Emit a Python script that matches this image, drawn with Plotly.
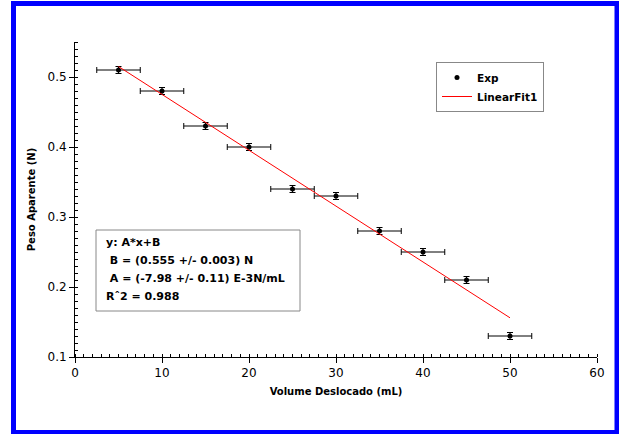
import plotly.graph_objects as go

# Data
vol = [5, 10, 15, 20, 25, 30, 35, 40, 45, 50]
peso = [0.51, 0.48, 0.43, 0.40, 0.34, 0.33, 0.28, 0.25, 0.21, 0.13]
vol_err = [2.5] * 10
peso_err = [0.005] * 10

fit_x = [5, 50]
fit_y = [0.515, 0.156]

fit_lines = ["y: A*x+B",
             " B = (0.555 +/- 0.003) N",
             " A = (-7.98 +/- 0.11) E-3N/mL",
             "R\u02c62 = 0.988"]

FONT = "DejaVu Sans, sans-serif"

# plot area in pixels
L, R, T, B = 75, 597, 42, 357
W, H = 619, 434
pw, ph = R - L, B - T


def px(x):
    return (x - L) / pw


def py(y):
    return (B - y) / ph


fig = go.Figure()
fig.add_trace(go.Scatter(
    x=vol, y=peso, mode="markers", name="Exp",
    marker=dict(color="black", size=5),
    error_x=dict(type="data", array=vol_err, color="black", thickness=1, width=3),
    error_y=dict(type="data", array=peso_err, color="black", thickness=1, width=3),
))
fig.add_trace(go.Scatter(
    x=fit_x, y=fit_y, mode="lines", name="LinearFit1",
    line=dict(color="red", width=1),
))

shapes = [
    # blue frame
    dict(type="rect", xref="paper", yref="paper",
         x0=px(13.5), x1=px(617), y0=py(432.5), y1=py(3.5),
         line=dict(color="#0000ff", width=5), layer="above"),
    # fit box
    dict(type="rect", xref="paper", yref="paper",
         x0=px(96), x1=px(300), y0=py(311), y1=py(230),
         line=dict(color="#888888", width=1), fillcolor="white", layer="above"),
]

annotations = []
line_y = [242, 260, 278, 296]
for txt, yy in zip(fit_lines, line_y):
    annotations.append(dict(
        xref="paper", yref="paper", x=px(104), y=py(yy),
        xanchor="left", yanchor="middle", showarrow=False,
        text=txt.replace(" ", "&nbsp;", 1) if txt.startswith(" ") else txt,
        font=dict(family=FONT, size=11, color="black", weight="bold"),
    ))

fig.update_layout(
    width=W, height=H,
    margin=dict(l=L, r=W - R, t=T, b=H - B),
    paper_bgcolor="white", plot_bgcolor="white",
    font=dict(family=FONT, size=12, color="black"),
    shapes=shapes, annotations=annotations,
    showlegend=True,
    legend=dict(x=px(436), y=py(62), xanchor="left", yanchor="top",
                bordercolor="#888888", borderwidth=1, bgcolor="white",
                font=dict(family=FONT, size=10.5, color="black", weight="bold"),
                tracegroupgap=0),
)
fig.update_xaxes(
    range=[0, 60], dtick=10, showgrid=False, zeroline=False,
    showline=True, linecolor="black", linewidth=1,
    ticks="outside", ticklen=5, tickcolor="black",
    minor=dict(dtick=1, ticks="inside", ticklen=3, tickcolor="black"),
    title=dict(text="Volume Deslocado (mL)", font=dict(size=10, weight="bold"), standoff=8),
    tickfont=dict(size=12),
)
fig.update_yaxes(
    range=[0.1, 0.55], tickvals=[0.1, 0.2, 0.3, 0.4, 0.5],
    ticktext=["0.1", "0.2", "0.3", "0.4", "0.5"],
    showgrid=False, zeroline=False,
    showline=True, linecolor="black", linewidth=1,
    ticks="outside", ticklen=5, tickcolor="black",
    minor=dict(dtick=0.01, tick0=0.1, ticks="inside", ticklen=3, tickcolor="black"),
    title=dict(text="Peso Aparente (N)", font=dict(size=10, weight="bold"), standoff=10),
    tickfont=dict(size=12),
)

fig.write_html("out.html", config={"displayModeBar": False},
               post_script="document.body.style.margin='0';")
